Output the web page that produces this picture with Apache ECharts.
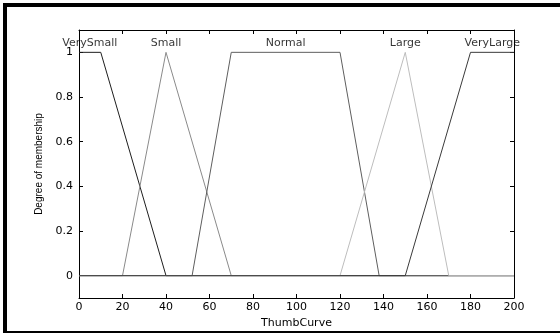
<!DOCTYPE html>
<html>
<head>
<meta charset="utf-8">
<script src="https://cdn.jsdelivr.net/npm/echarts@6/dist/echarts.min.js"></script>
<style>
  html, body { margin: 0; padding: 0; background: #fff; }
  #box { width: 560px; height: 334px; }
</style>
</head>
<body>
<div id="box"></div>
<script>
// membership functions, [x, degree]
const mfNames = ['VerySmall', 'Small', 'Normal', 'Large', 'VeryLarge'];
const mfLabelX = [5, 40, 95, 150, 190];
const verySmall = [[0, 1], [10, 1], [40, 0], [200, 0]];
const small = [[0, 0], [20, 0], [40, 1], [70, 0], [200, 0]];
const normal = [[0, 0], [52, 0], [70, 1], [120, 1], [138, 0], [200, 0]];
const large = [[0, 0], [120, 0], [150, 1], [170, 0], [200, 0]];
const veryLarge = [[0, 0], [150, 0], [180, 1], [200, 1]];
const mfColors = ['#1e1e1e', '#8a8a8a', '#5e5e5e', '#bdbdbd', '#3a3a3a'];
const yTicks = [0, 0.2, 0.4, 0.6, 0.8, 1];

const font = 'DejaVu Sans';
const chart = echarts.init(document.getElementById('box'));

const lineSeries = [verySmall, small, normal, large, veryLarge].map((d, i) => ({
  type: 'line',
  data: d,
  symbol: 'none',
  lineStyle: { color: mfColors[i], width: 1 },
  animation: false,
  z: 2 + i
}));

const tickStyle = { show: true, inside: true, length: 4, lineStyle: { color: '#000' } };
const axisLine = { show: true, onZero: false, lineStyle: { color: '#000', width: 1 } };

chart.setOption({
  animation: false,
  grid: { left: 79, top: 30, right: 46, bottom: 36 },
  xAxis: [{
    type: 'value', min: 0, max: 200, interval: 20,
    name: 'ThumbCurve', nameLocation: 'middle', nameGap: 20,
    nameTextStyle: { fontFamily: font, fontSize: 11, color: '#000' },
    axisLine, axisTick: tickStyle, splitLine: { show: false },
    axisLabel: { fontFamily: font, fontSize: 11, color: '#000', margin: 4 }
  }, {
    type: 'value', min: 0, max: 200, interval: 20, position: 'top',
    axisLine, axisTick: tickStyle, splitLine: { show: false },
    axisLabel: { show: false }
  }],
  yAxis: [{
    type: 'value', min: -0.1, max: 1.1,
    name: 'Degree of membership', nameLocation: 'middle', nameGap: 33,
    nameTextStyle: { fontFamily: 'Liberation Sans', fontSize: 10, color: '#000' },
    axisLine, splitLine: { show: false },
    axisTick: Object.assign({ customValues: yTicks }, tickStyle),
    axisLabel: { customValues: yTicks, fontFamily: font, fontSize: 11, color: '#000', margin: 6 }
  }, {
    type: 'value', min: -0.1, max: 1.1, position: 'right',
    axisLine, splitLine: { show: false },
    axisTick: Object.assign({ customValues: yTicks }, tickStyle),
    axisLabel: { show: false }
  }],
  series: lineSeries.concat([{
    type: 'scatter',
    symbolSize: 0,
    data: mfLabelX.map((x, i) => ({ value: [x, 1], name: mfNames[i] })),
    label: {
      show: true, position: 'top', distance: 4,
      formatter: p => p.name,
      fontFamily: font, fontSize: 11, color: '#000'
    },
    z: 10
  }]),
  graphic: [
    { type: 'rect', shape: { x: 3, y: 3, width: 557, height: 4 }, style: { fill: '#000' } },
    { type: 'rect', shape: { x: 3, y: 3, width: 4, height: 329 }, style: { fill: '#000' } },
    { type: 'rect', shape: { x: 3, y: 331, width: 557, height: 2 }, style: { fill: '#000' } }
  ]
});
</script>
</body>
</html>
